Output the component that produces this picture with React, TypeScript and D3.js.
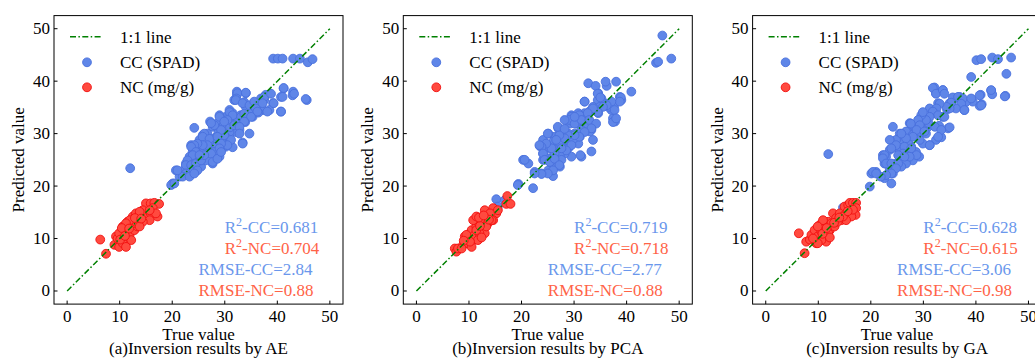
import React from "react";
import * as d3 from "d3";

type Pt = [number, number];

const ccA: Pt[] = [
  [39.2, 44.3], [40.1, 44.3], [41.0, 44.3], [43.0, 44.3], [44.3, 44.3], [45.8, 43.6], [46.7, 44.2],
  [45.6, 36.4], [43.0, 38.0], [42.9, 37.3], [41.2, 38.6], [40.7, 37.0], [40.7, 34.2], [39.2, 35.8],
  [37.8, 37.4], [37.5, 36.4], [37.3, 34.5], [38.5, 34.5], [35.9, 35.1], [35.3, 33.2], [35.0, 34.5],
  [34.0, 37.7], [32.3, 38.0], [32.3, 37.4], [31.8, 36.4], [33.7, 36.0], [34.0, 35.1], [34.7, 30.0],
  [33.4, 28.3], [30.9, 34.5], [31.5, 33.9], [30.2, 33.2], [29.0, 33.5], [28.6, 32.0], [27.7, 31.3],
  [27.2, 32.3], [31.5, 32.6], [32.4, 32.6], [32.8, 30.7], [32.1, 30.3], [30.9, 30.3], [30.2, 29.3],
  [29.3, 28.7], [30.9, 28.1], [31.5, 27.4], [29.3, 30.7], [28.3, 29.3], [27.7, 28.7], [26.7, 30.0],
  [25.8, 29.7], [25.2, 28.8], [25.8, 27.5], [27.1, 28.1], [26.7, 26.2], [28.0, 27.2], [29.0, 25.6],
  [27.7, 24.3], [26.1, 25.6], [24.8, 25.9], [24.5, 27.2], [23.6, 27.8], [23.9, 26.6], [24.2, 31.1],
  [23.3, 25.6], [22.6, 24.3], [23.6, 23.7], [24.5, 23.0], [25.2, 24.3], [21.9, 22.2], [21.4, 21.8],
  [20.7, 23.0], [20.1, 20.5], [19.8, 20.2], [25.5, 23.7], [26.4, 24.9], [27.4, 26.9], [23.3, 22.4],
  [22.4, 23.3], [28.3, 27.5], [30.2, 27.5], [12.0, 23.4], [15.0, 15.6], [33.0, 33.5], [29.8, 31.6],
  [26.0, 26.8], [24.0, 24.6], [28.8, 30.2], [33.9, 32.2], [36.4, 34.0], [31.0, 31.2],
  [32.4, 37.7], [34.0, 37.8], [32.2, 36.7], [32.1, 36.4], [33.4, 35.8], [34.7, 35.4], [36.9, 36.7],
  [37.5, 37.0], [38.8, 37.6], [41.2, 38.7], [41.0, 37.0], [43.2, 37.6], [45.4, 36.6], [35.6, 36.1],
  [35.9, 34.8], [36.2, 34.2], [37.2, 35.8], [38.1, 34.2], [39.3, 35.8], [40.7, 34.2], [30.9, 34.1],
  [31.5, 33.5], [30.5, 32.6], [31.8, 31.6], [33.1, 33.2], [33.7, 33.8], [35.0, 33.2], [33.7, 32.3],
  [32.8, 31.3], [32.8, 30.0], [33.4, 28.1], [31.2, 28.8], [30.5, 27.8], [29.9, 29.7], [29.3, 30.7],
  [28.0, 31.6], [27.4, 32.0], [29.0, 33.2], [29.9, 32.3], [26.1, 30.0], [25.8, 29.4], [27.1, 29.0],
  [28.6, 29.4], [29.3, 28.1], [28.0, 26.5], [29.0, 27.2], [27.4, 26.2], [26.7, 27.8], [25.8, 27.8],
  [24.8, 28.1], [24.2, 27.8], [23.6, 27.5], [24.5, 26.5], [23.9, 25.9], [22.9, 24.9], [22.6, 24.0],
  [23.6, 24.0], [24.5, 24.3], [25.5, 24.9], [26.1, 25.9], [25.2, 25.9], [24.8, 23.0], [23.6, 22.7],
  [22.6, 22.4], [22.0, 21.8], [21.0, 23.0], [20.4, 20.5], [23.3, 21.8], [24.2, 22.4], [27.7, 24.6],
  [28.6, 25.2], [29.3, 26.5],
];
const ncA: Pt[] = [
  [6.3, 9.8], [7.4, 7.1], [9.0, 8.8], [9.3, 10.4], [9.9, 9.4], [10.3, 11.0], [10.6, 12.3], [11.2, 11.6],
  [11.9, 10.7], [11.5, 13.2], [12.5, 14.2], [13.1, 14.8], [13.8, 13.5], [12.2, 12.3], [12.8, 11.6],
  [13.4, 12.3], [14.4, 14.5], [15.0, 13.9], [15.3, 14.8], [15.9, 14.8], [15.0, 16.7], [15.9, 16.7],
  [16.6, 16.8], [17.5, 16.6], [17.2, 14.2], [16.3, 15.8], [15.7, 13.5], [14.4, 13.2], [9.9, 8.4],
  [9.6, 10.0], [10.9, 10.0], [10.9, 11.0], [11.5, 9.7], [12.2, 9.7], [9.9, 11.0], [12.5, 12.9],
  [13.1, 13.2], [10.6, 9.1], [11.2, 8.4], [13.8, 12.3], [11.9, 13.5], [11.2, 12.9], [14.4, 15.4],
  [13.8, 15.1], [16.9, 14.8], [15.7, 15.4], [10.4, 12.0], [11.8, 11.9], [12.9, 13.9], [14.1, 13.8],
  [10.1, 9.8], [11.0, 10.5],
];

const ccB: Pt[] = [
  [46.8, 48.7], [45.6, 43.5], [46.0, 43.7], [48.5, 44.3], [40.9, 38.0], [39.0, 36.4], [38.7, 37.0],
  [38.0, 39.9], [36.2, 39.1], [37.6, 35.1], [37.8, 32.3], [37.4, 32.9], [37.1, 34.5], [35.8, 35.8],
  [35.2, 36.7], [34.6, 37.7], [34.5, 36.4], [33.6, 35.1], [33.0, 34.3], [32.7, 39.6], [32.0, 36.1],
  [32.0, 33.9], [34.6, 33.9], [34.9, 35.1], [36.5, 35.1], [33.3, 30.7], [33.6, 28.8], [33.3, 26.6],
  [31.4, 25.6], [32.0, 31.3], [30.8, 33.9], [29.5, 33.5], [29.2, 31.9], [30.4, 31.9], [31.1, 29.4],
  [30.1, 30.0], [29.5, 28.1], [28.9, 30.0], [28.6, 28.8], [27.6, 30.0], [27.0, 31.0], [26.3, 29.4],
  [26.0, 28.5], [27.0, 27.8], [27.9, 27.5], [28.9, 27.2], [29.5, 25.6], [28.2, 26.2], [27.3, 25.9],
  [26.3, 26.9], [25.4, 27.2], [25.1, 30.0], [24.1, 28.8], [23.5, 27.6], [24.1, 26.2], [24.1, 25.0],
  [25.1, 25.3], [25.7, 24.3], [27.3, 23.7], [26.0, 21.9], [25.1, 23.0], [23.8, 22.4], [22.5, 22.7],
  [22.2, 19.6], [19.4, 20.4], [20.3, 25.0], [21.3, 24.3], [28.2, 28.8], [30.8, 28.1], [31.4, 30.7],
  [33.0, 30.4], [26.0, 25.6], [27.6, 25.0], [15.2, 17.5], [16.8, 17.3], [15.5, 16.1], [29.9, 29.0],
  [27.2, 28.4], [31.6, 32.6], [34.0, 34.6],
  [34.1, 39.1], [36.0, 39.9], [34.5, 37.6], [35.0, 36.9], [38.9, 36.9], [38.7, 36.1], [37.1, 36.1],
  [36.2, 35.4], [37.7, 34.5], [37.4, 32.2], [38.0, 32.9], [35.5, 35.1], [34.5, 34.1], [33.6, 34.8],
  [32.6, 33.9], [32.0, 36.1], [31.0, 33.5], [29.5, 33.2], [29.1, 32.6], [30.1, 31.9], [31.4, 32.6],
  [32.9, 32.6], [34.2, 31.9], [33.3, 31.0], [32.0, 30.3], [31.0, 29.4], [31.2, 25.9], [30.1, 29.7],
  [28.8, 29.7], [28.2, 29.1], [27.2, 29.7], [26.6, 28.8], [25.0, 30.0], [26.9, 31.3], [28.2, 30.9],
  [29.5, 27.8], [28.5, 26.8], [27.6, 27.2], [26.3, 26.2], [25.7, 27.2], [24.7, 28.1], [23.8, 27.5],
  [23.4, 27.8], [24.1, 26.2], [24.4, 25.0], [25.4, 24.6], [26.3, 25.2], [27.2, 24.0], [26.0, 23.0],
  [25.0, 22.4], [23.8, 22.3], [22.5, 22.4], [20.6, 25.0], [19.3, 20.2], [28.2, 32.6], [30.1, 33.2],
];
const ncB: Pt[] = [
  [7.3, 8.1], [7.6, 7.5], [7.9, 8.1], [8.9, 8.8], [9.2, 10.4], [9.5, 9.1], [9.8, 9.7], [10.2, 11.0],
  [10.5, 11.6], [10.8, 9.7], [11.1, 10.7], [11.4, 12.3], [11.7, 13.2], [12.4, 11.6], [12.7, 12.9],
  [13.0, 15.4], [13.6, 14.2], [14.3, 14.8], [14.6, 15.8], [15.2, 14.8], [14.6, 13.5], [13.6, 12.9],
  [13.0, 11.0], [12.0, 11.0], [11.7, 9.7], [10.8, 13.5], [11.4, 14.2], [10.5, 8.4], [9.5, 10.7],
  [12.4, 10.2], [13.3, 12.3], [14.3, 13.5], [15.5, 15.4], [17.1, 16.6], [17.9, 16.6], [17.3, 18.1],
  [8.6, 8.1], [10.2, 9.4], [11.4, 11.6], [14.0, 14.8], [12.1, 12.4], [13.8, 13.6], [9.0, 9.6],
  [11.9, 14.0], [12.8, 14.4],
];

const ccC: Pt[] = [
  [40.1, 44.0], [41.0, 44.2], [43.1, 44.5], [44.2, 44.2], [46.7, 44.5], [45.8, 41.4], [45.6, 37.2],
  [42.9, 38.2], [43.1, 37.5], [40.9, 37.4], [41.1, 35.6], [40.7, 35.3], [39.1, 40.8], [39.4, 36.1],
  [38.1, 36.0], [37.8, 34.5], [36.9, 37.0], [35.9, 36.7], [35.0, 35.8], [34.7, 31.0], [33.7, 38.3],
  [32.1, 38.8], [32.4, 37.7], [32.8, 35.8], [31.2, 34.8], [31.8, 33.9], [33.7, 33.2], [33.4, 29.3],
  [32.4, 28.8], [31.2, 27.8], [29.9, 33.5], [29.2, 32.6], [29.9, 30.7], [30.5, 30.0], [29.0, 29.3],
  [27.7, 30.7], [27.4, 32.0], [26.7, 30.4], [26.1, 28.8], [25.5, 30.0], [24.2, 31.3], [24.8, 28.8],
  [24.5, 27.5], [23.6, 26.9], [22.9, 25.6], [22.3, 25.9], [22.6, 24.3], [23.6, 23.3], [24.2, 22.4],
  [23.9, 20.5], [24.8, 24.3], [25.8, 25.6], [26.7, 26.5], [27.7, 27.5], [28.6, 26.5], [29.2, 25.6],
  [28.0, 24.9], [26.7, 24.3], [25.8, 23.7], [21.0, 22.7], [20.1, 22.4], [19.8, 19.9], [22.6, 21.5],
  [29.9, 28.1], [30.9, 31.3], [26.1, 26.9], [27.1, 28.5], [28.0, 29.8], [11.9, 26.1], [14.7, 15.9],
  [34.5, 34.6], [31.0, 32.0], [33.0, 31.5], [28.4, 31.2], [25.4, 27.0], [35.6, 35.0],
  [31.8, 38.7], [32.4, 37.6], [33.7, 38.3], [34.0, 37.6], [35.6, 36.9], [36.6, 37.0], [37.5, 36.7],
  [39.1, 36.7], [37.2, 35.7], [36.2, 34.8], [37.8, 34.5], [40.7, 37.3], [41.0, 35.4], [42.9, 38.3],
  [45.5, 37.1], [35.3, 35.9], [35.0, 34.8], [34.4, 35.1], [33.1, 35.7], [32.5, 34.8], [31.8, 34.2],
  [32.8, 33.5], [34.0, 33.2], [31.2, 33.2], [30.5, 32.6], [29.6, 33.5], [29.0, 32.6], [29.3, 31.6],
  [29.9, 34.1], [27.6, 31.9], [28.7, 30.7], [30.2, 30.4], [32.2, 31.3], [33.4, 30.7], [35.0, 31.2],
  [32.8, 29.4], [31.2, 27.8], [29.3, 28.8], [28.0, 29.4], [26.7, 29.1], [25.8, 30.0], [23.6, 28.8],
  [24.8, 27.8], [26.4, 27.5], [27.7, 27.2], [28.7, 25.9], [27.4, 25.6], [26.1, 26.2], [25.2, 25.9],
  [23.9, 27.2], [22.6, 25.9], [22.3, 25.3], [22.9, 24.3], [23.9, 24.3], [25.2, 24.3], [26.4, 25.6],
  [24.8, 23.4], [23.9, 22.4], [22.9, 22.1], [21.9, 21.8], [20.4, 22.7], [21.0, 22.4],
];
const ncC: Pt[] = [
  [6.3, 11.0], [7.4, 7.2], [7.7, 9.4], [8.4, 9.8], [8.7, 10.7], [9.3, 11.6], [9.6, 9.1], [9.9, 10.4],
  [10.3, 12.6], [10.6, 11.3], [10.9, 12.3], [11.2, 10.7], [11.5, 9.4], [11.9, 13.2], [12.2, 11.6],
  [12.5, 12.9], [12.8, 14.8], [13.4, 13.9], [13.1, 12.3], [14.1, 14.8], [14.4, 13.5], [15.0, 16.1],
  [15.3, 14.8], [15.7, 16.4], [16.0, 16.8], [16.6, 16.8], [17.2, 16.8], [17.2, 15.8], [17.1, 14.5],
  [16.3, 14.2], [15.3, 13.5], [14.7, 14.2], [10.6, 9.7], [9.9, 9.1], [9.0, 10.0], [11.9, 11.0],
  [13.7, 13.2], [16.6, 15.5], [10.9, 13.5], [9.9, 12.3], [12.2, 10.2], [13.0, 13.0], [14.0, 14.0],
  [10.8, 10.9], [15.6, 15.2], [11.6, 12.0],
];

const panelCaptions = [
  "(a)Inversion results by AE",
  "(b)Inversion results by PCA",
  "(c)Inversion results by GA",
];
const r2CC = ["0.681", "0.719", "0.628"];
const r2NC = ["0.704", "0.718", "0.615"];
const rmseCC = ["2.84", "2.77", "3.06"];
const rmseNC = ["0.88", "0.88", "0.98"];
const ticks = [0, 10, 20, 30, 40, 50];
const legendLabels = ["1:1 line", "CC (SPAD)", "NC (mg/g)"];

const ccSeries = [ccA, ccB, ccC];
const ncSeries = [ncA, ncB, ncC];

const FONT = "'Liberation Serif', 'Times New Roman', serif";
const CC_FILL = "#5f86e8";
const CC_EDGE = "#4a70dc";
const NC_FILL = "#ff4a3f";
const NC_EDGE = "#f01010";
const CC_TEXT = "#6a97ec";
const NC_TEXT = "#ff6347";

const W = 1035;
const H = 360;
const AX_W = 289;
const AX_TOP = 15.6;
const AX_BOT = 304.1;
const PANEL_STEP = 349.3;
const FIRST_LEFT = 54;

function Panel({ i }: { i: number }) {
  const left = FIRST_LEFT + i * PANEL_STEP;
  const x = d3.scaleLinear().domain([-2.5, 52.5]).range([left, left + AX_W]);
  const y = d3.scaleLinear().domain([-2.5, 52.5]).range([AX_BOT, AX_TOP]);
  const line = d3.line<number>().x((v) => x(v)).y((v) => y(v));
  const cx = left + AX_W / 2;
  const cy = (AX_TOP + AX_BOT) / 2;
  const lx = left + 16;
  const fs = 17;
  const stat = (
    px: number,
    py: number,
    color: string,
    content: React.ReactNode
  ) => (
    <text x={x(px)} y={y(py)} fill={color} fontSize={fs} fontFamily={FONT}>
      {content}
    </text>
  );
  return (
    <g>
      {ccSeries[i].map((p, k) => (
        <circle key={"c" + k} cx={x(p[0])} cy={y(p[1])} r={4.4} fill={CC_FILL} stroke={CC_EDGE} strokeWidth={0.9} />
      ))}
      {ncSeries[i].map((p, k) => (
        <circle key={"n" + k} cx={x(p[0])} cy={y(p[1])} r={4.4} fill={NC_FILL} stroke={NC_EDGE} strokeWidth={0.9} />
      ))}
      <path d={line([0, 50]) || ""} stroke="#008000" strokeWidth={1.5} fill="none" strokeDasharray="6,2.4,1.5,2.4" />
      <rect x={left} y={AX_TOP} width={AX_W} height={AX_BOT - AX_TOP} fill="none" stroke="#000" strokeWidth={1} />
      {ticks.map((t) => (
        <g key={"t" + t}>
          <line x1={x(t)} x2={x(t)} y1={AX_BOT} y2={AX_BOT - 3.5} stroke="#000" />
          <text x={x(t)} y={AX_BOT + 18} textAnchor="middle" fontSize={fs} fontFamily={FONT}>
            {t}
          </text>
          <line x1={left} x2={left + 3.5} y1={y(t)} y2={y(t)} stroke="#000" />
          <text x={left - 4} y={y(t) + 5.5} textAnchor="end" fontSize={fs} fontFamily={FONT}>
            {t}
          </text>
        </g>
      ))}
      <text x={cx} y={340} textAnchor="middle" fontSize={fs} fontFamily={FONT}>
        True value
      </text>
      <text x={cx} y={354} textAnchor="middle" fontSize={fs} fontFamily={FONT}>
        {panelCaptions[i]}
      </text>
      <text
        transform={`translate(${left - 30},${cy}) rotate(-90)`}
        textAnchor="middle"
        fontSize={fs}
        fontFamily={FONT}
      >
        Predicted value
      </text>
      <line x1={lx} x2={lx + 33} y1={36.7} y2={36.7} stroke="#008000" strokeWidth={1.5} strokeDasharray="6,2.4,1.5,2.4" />
      <text x={lx + 50} y={42.5} fontSize={fs} fontFamily={FONT}>{legendLabels[0]}</text>
      <circle cx={lx + 17} cy={62.3} r={4.4} fill={CC_FILL} stroke={CC_EDGE} strokeWidth={0.9} />
      <text x={lx + 50} y={67.5} fontSize={fs} fontFamily={FONT}>{legendLabels[1]}</text>
      <circle cx={lx + 17} cy={87.3} r={4.4} fill={NC_FILL} stroke={NC_EDGE} strokeWidth={0.9} />
      <text x={lx + 50} y={92.5} fontSize={fs} fontFamily={FONT}>{legendLabels[2]}</text>
      {stat(30, 11, CC_TEXT, <>R<tspan fontSize={12} dy={-7}>2</tspan><tspan dy={7}>-CC={r2CC[i]}</tspan></>)}
      {stat(30, 7, NC_TEXT, <>R<tspan fontSize={12} dy={-7}>2</tspan><tspan dy={7}>-NC={r2NC[i]}</tspan></>)}
      {stat(25, 3, CC_TEXT, <>RMSE-CC={rmseCC[i]}</>)}
      {stat(25, -1, NC_TEXT, <>RMSE-NC={rmseNC[i]}</>)}
    </g>
  );
}

export default function App() {
  return (
    <svg
      width={W}
      height={H}
      viewBox={`0 0 ${W} ${H}`}
      style={{ position: "absolute", left: 0, top: 0, background: "#fff" }}
    >
      <rect width={W} height={H} fill="#fff" />
      {[0, 1, 2].map((i) => (
        <Panel key={i} i={i} />
      ))}
    </svg>
  );
}
